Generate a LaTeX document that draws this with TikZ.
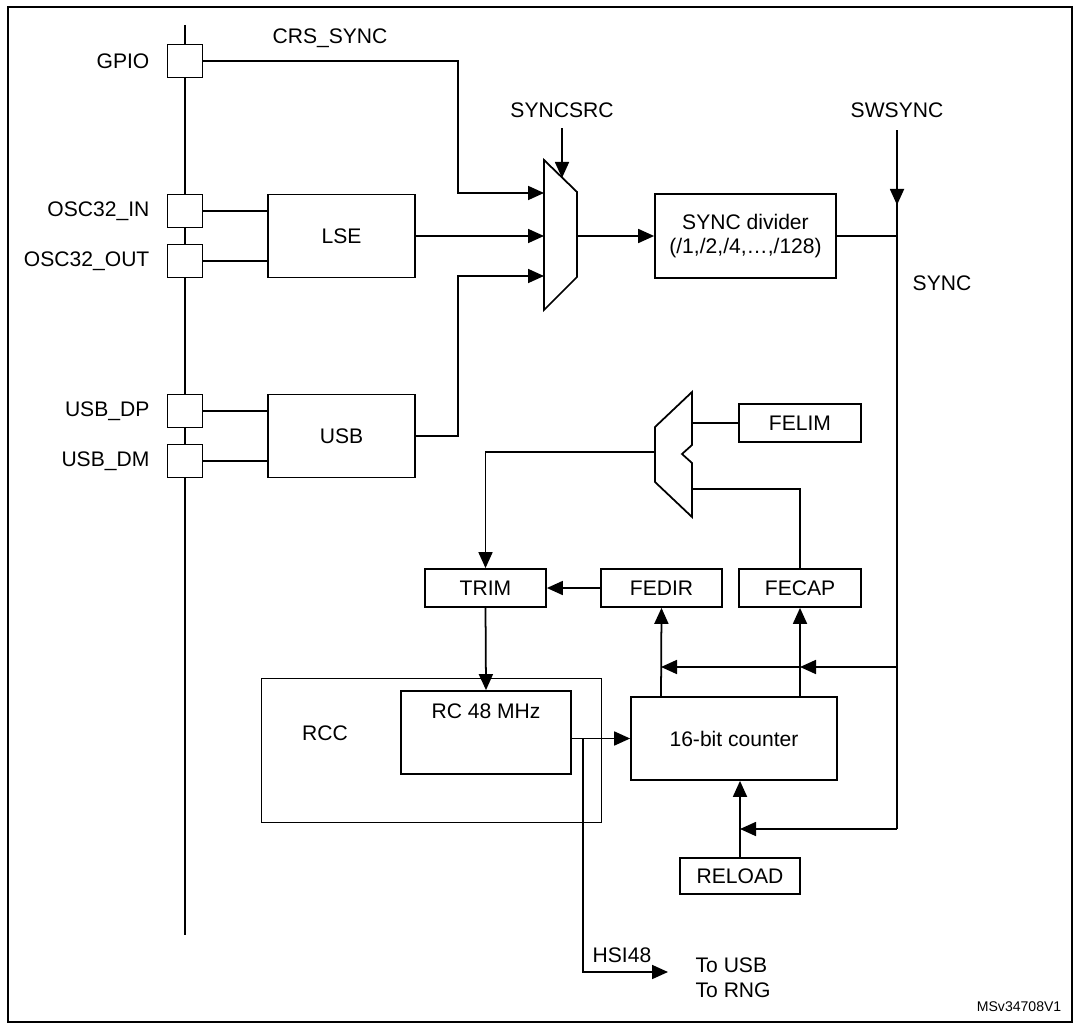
\documentclass[tikz,border=0pt]{standalone}
\usepackage{fontspec}
\setmainfont{Liberation Sans}
\usetikzlibrary{arrows.meta,positioning,calc}
\begin{document}
\begin{tikzpicture}[x=0.02cm,y=-0.02cm,
    blk/.style={draw, line width=1pt, inner sep=0pt, font=\fontsize{12}{14}\selectfont},
    pin/.style={draw, line width=1pt, minimum width=0.7cm, minimum height=0.66cm, inner sep=0pt},
    lbl/.style={font=\fontsize{12}{14}\selectfont, inner sep=1pt},
    arr/.style={-{Triangle[length=0.32cm,width=0.28cm]}},
    every path/.style={line width=1pt}]
    \useasboundingbox (0,0) rectangle (1077,1026);
    % Frame
    \draw[line width=1.2pt] (8,7) rectangle (1072,1022);

    % Pins
    \draw (185,25) -- (185,935);
    \foreach \name/\y/\txt in {gpio/61/GPIO, oscin/211/OSC32\_IN, oscout/261/OSC32\_OUT, dp/411/USB\_DP, dm/461/USB\_DM} {
        \node[pin, fill=white] (\name) at (185,\y) {};
        \node[lbl, anchor=east] at (152,\y) {\txt};
    }

    % Blocks
    \node[blk, minimum width=2.94cm, minimum height=1.66cm] (lse) at (341.5,236) {LSE};
    \node[blk, minimum width=2.94cm, minimum height=1.66cm] (usb) at (341.5,436) {USB};
    \node[blk, minimum width=3.62cm, minimum height=1.68cm, align=center] (div) at (745.5,236) {SYNC divider\\(/1,/2,/4,\dots,/128)};
    \node[blk, minimum width=2.44cm, minimum height=0.76cm] (felim) at (800,423) {FELIM};
    \node[blk, minimum width=2.44cm, minimum height=0.76cm] (fecap) at (800,588) {FECAP};
    \node[blk, minimum width=2.42cm, minimum height=0.76cm] (fedir) at (661.5,588) {FEDIR};
    \node[blk, minimum width=2.42cm, minimum height=0.76cm] (trim) at (485.5,588) {TRIM};
    \node[blk, minimum width=6.8cm, minimum height=2.88cm] (rcc) at (431.5,750.5) {};
    \node[lbl] at (325,733) {RCC};
    \node[blk, minimum width=3.4cm, minimum height=1.66cm] (rc) at (486,732.5) {};
    \node[lbl] at (486,711) {RC 48 MHz};
    \node[blk, minimum width=4.12cm, minimum height=1.66cm] (cnt) at (734,738.5) {16-bit counter};
    \node[blk, minimum width=2.4cm, minimum height=0.72cm] (reload) at (740,876) {RELOAD};

    % Multiplexers
    \draw (544,160) -- (577,192) -- (577,277) -- (544,310) -- cycle;
    \draw (655,427) -- (692,392) -- (692,445) -- (682,454) -- (692,463)
        -- (692,517) -- (655,482) -- cycle;
    \coordinate (m1a) at (544,193);
    \coordinate (m1b) at (544,236);
    \coordinate (m1c) at (544,276);
    \coordinate (m1o) at (577,236);

    % Labels
    \node[lbl] at (330,38) {CRS\_SYNC};
    \node[lbl] (syncsrc) at (562,110) {SYNCSRC};
    \node[lbl] (swsync) at (897,110) {SWSYNC};
    \node[lbl] at (942,283) {SYNC};
    \node[lbl, anchor=west] (hsi) at (590,955) {HSI48};
    \node[lbl, anchor=west, align=left] (to) at (693,978) {To USB\\To RNG};
    \node[font=\fontsize{8}{9}\selectfont, anchor=east] at (1068,1007) {MSv34708V1};

    % Source connections
    \draw[arr] (gpio.east) -| (458,150) |- (m1a);
    \draw (oscin.east) -- (oscin.east -| lse.west);
    \draw (oscout.east) -- (oscout.east -| lse.west);
    \draw (dp.east) -- (dp.east -| usb.west);
    \draw (dm.east) -- (dm.east -| usb.west);
    \draw[arr] (lse.east) -- (m1b);
    \draw[arr] (usb.east) -| (458,330) |- (m1c);
    \draw[arr] (syncsrc.south) ++(0,8) -- (562,178);
    \draw[arr] (m1o) -- (div.west);
    \draw (div.east) -- (897,236);
    \draw[arr] (swsync.south) ++(0,10) -- (897,205);
    \draw (897,200) -- (897,829);

    % Trimming loop
    \draw (felim.west) -- (692,423);
    \draw (fecap.north) |- (692,489);
    \draw[arr] (655,452) -| (trim.north);
    \draw[arr] (fedir.west) -- (trim.east);
    \draw[arr] (trim.south) -- (rc.north);
    \draw[arr] (rc.east |- cnt.west) -- (cnt.west);
    \draw[arr] (583,739) |- (668,972);
    \draw[arr] (897,667) -- (800,667);
    \draw[arr] (800,667) -- (661,667);
    \draw[arr] (661,697) -- (fedir.south);
    \draw[arr] (800,697) -- (fecap.south);
    \draw[arr] (reload.north) -- (cnt.south -| reload.north);
    \draw[arr] (897,829) -- (740,829);
\end{tikzpicture}
\end{document}
